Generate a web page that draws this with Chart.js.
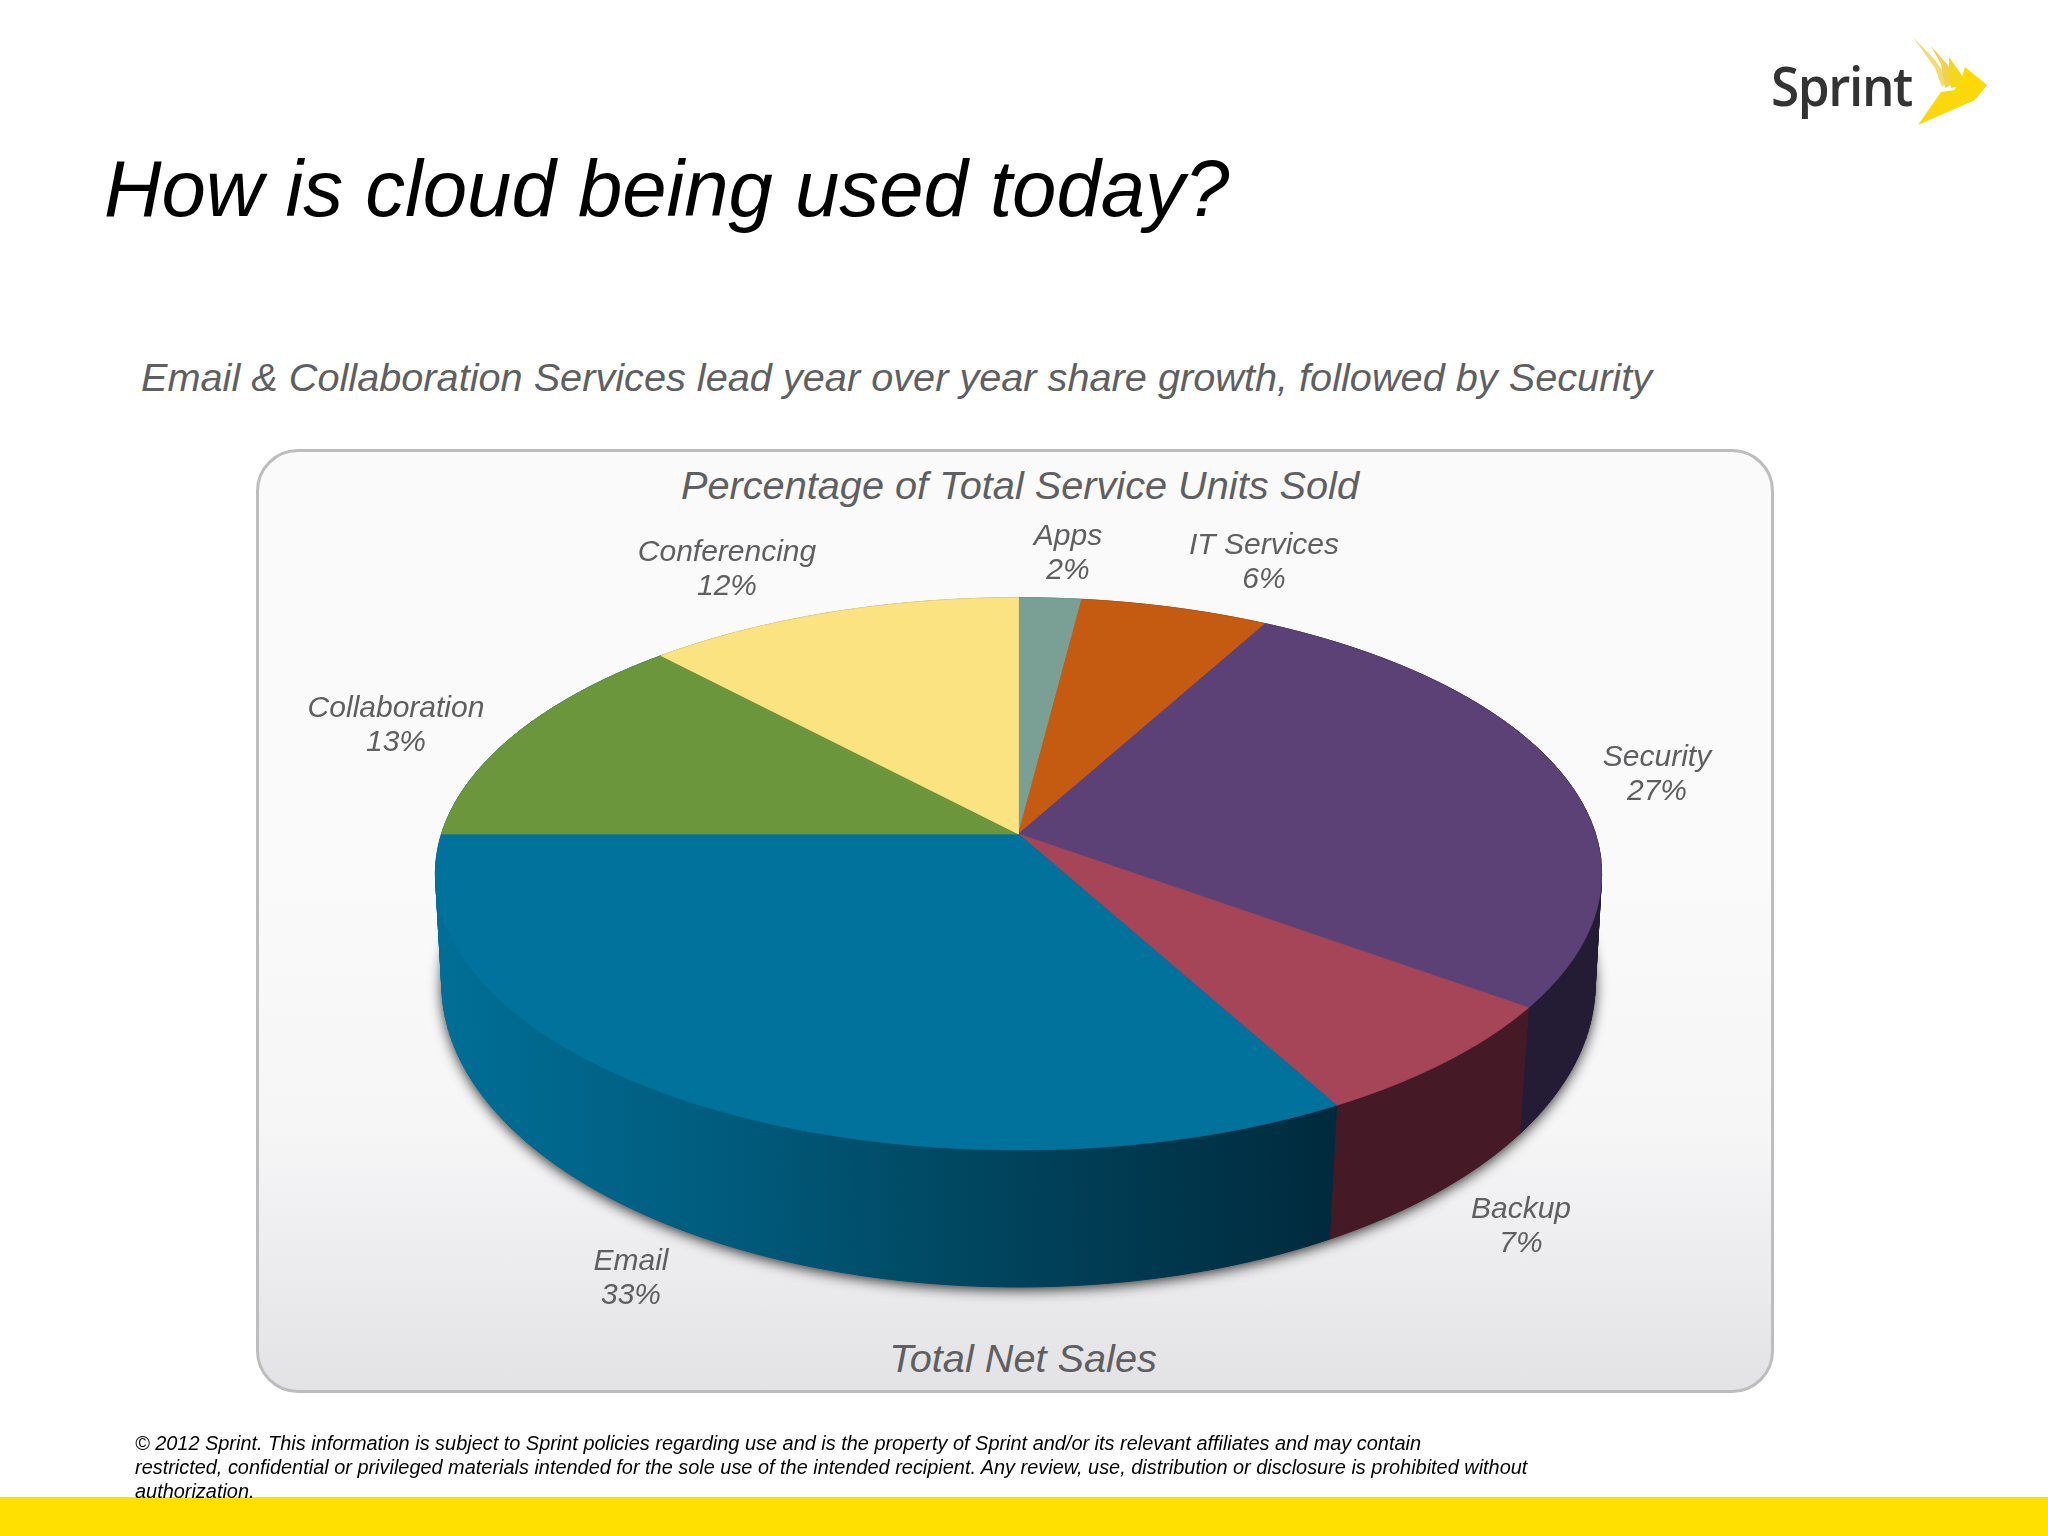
<!DOCTYPE html>
<html>
<head>
<meta charset="utf-8">
<title>How is cloud being used today?</title>
<script src="https://cdn.jsdelivr.net/npm/chart.js@4"></script>
<style>
  html, body { margin: 0; padding: 0; background: #fff; }
  #page { position: relative; width: 2048px; height: 1536px; overflow: hidden; font-family: "Liberation Sans", Arial, sans-serif; font-style: italic; }
  #page > div, #page > canvas, #page > svg { position: absolute; white-space: nowrap; }
  #bar { left: 0; top: 1497px; width: 2048px; height: 39px; background: #ffe000; }
  #panel { left: 256px; top: 449px; width: 1512px; height: 938px; border: 3px solid #bdbdbd; border-radius: 42px;
           background: linear-gradient(#fafafa 0%, #fafafa 45%, #f6f6f7 72%, #e3e2e5 100%); }
  #heading { left: 104px; top: 145px; font-size: 79.7px; line-height: 88px; color: #000; }
  #subhead { left: 141px; top: 352px; font-size: 39.7px; line-height: 50px; color: #5f5f61; }
  .caption { width: 2046px; text-align: center; font-size: 39.7px; line-height: 50px; color: #5f5f61; }
  #top-caption { left: -3px; top: 460px; }
  #bottom-caption { left: 0; top: 1333px; }
  #footnote { left: 135px; top: 1431px; font-size: 19.92px; line-height: 24px; color: #000; }
  #brand { left: 1771px; top: 46px; font-family: "Open Sans", sans-serif; font-style: normal; font-weight: 600; font-size: 54px; line-height: 78px; letter-spacing: -1.5px; color: #333; transform: scaleX(.95); transform-origin: left; filter: blur(.6px); }
  #wing { left: 1905px; top: 30px; filter: blur(.7px); }
  #pie { left: 0; top: 0; }
</style>
</head>
<body>
<div id="page">
  <div id="bar"></div>
  <div id="panel"></div>
  <div id="heading">How is cloud being used today?</div>
  <div id="subhead">Email &amp; Collaboration Services lead year over year share growth, followed by Security</div>
  <div class="caption" id="top-caption">Percentage of Total Service Units Sold</div>
  <div class="caption" id="bottom-caption">Total Net Sales</div>
  <div id="brand">Sprint</div>
  <svg id="wing" width="90" height="100" viewBox="0 0 90 100">
    <polygon points="8,7 30,30 44,50 37,57 30,38" fill="#f0dc70"/>
    <polygon points="26,16 42,34 52,52 40,58 36,34" fill="#efd24a"/>
    <polygon points="44,27 56,44 60,55 46,58 44,40" fill="#f6d61a"/>
    <polygon points="60,37 82,55 72,66 48,62 56,50" fill="#ffd900"/>
    <polygon points="82,55 70,70 13,95 36,62 50,60" fill="#fbd80c"/>
  </svg>
  <canvas id="pie" width="2048" height="1536"></canvas>
  <div id="footnote">© 2012 Sprint. This information is subject to Sprint policies regarding use and is the property of Sprint and/or its relevant affiliates and may contain<br>restricted, confidential or privileged materials intended for the sole use of the intended recipient. Any review, use, distribution or disclosure is prohibited without<br>authorization.</div>
</div>
<script>
// Slices run clockwise from 12 o'clock, same order as the picture.
const categories = ['Apps', 'IT Services', 'Security', 'Backup', 'Email', 'Collaboration', 'Conferencing'];
const shares = [2, 6, 27, 7, 33, 13, 12];

const faceColors = ['#7a9f94', '#c55a11', '#5b4176', '#a64558', '#00729c', '#6b963b', '#fbe382'];
// Collaboration's wall only peeks out at the far left, where it reads as Email's.
const wallColors = ['#4a6059', '#76360a', '#241b35', '#451a26', null, '#006f97', '#97884e'];

// Centre of each two-line slice label on the page.
const labelX = [1068, 1264, 1657, 1521, 631, 396, 727];
const labelY = [554, 563, 775, 1227, 1279, 726, 570];

// Perspective of the tilted disc, all as fractions of the chart's own outerRadius.
const faceTilt = 0.1442;
const faceDepth = 0.4686;
const baseTilt = 0.13;
const baseWidth = 0.991;
const baseDepth = 0.5163;
const baseDrop = 0.1916;

// Map an arc angle to the page, on the top face or on the bottom rim.
function project(arc, angle, isBase) {
  const u = Math.cos(angle), v = Math.sin(angle);
  const r = arc.outerRadius;
  if (isBase) {
    const w = 1 - baseTilt * v;
    return [arc.x + r * baseWidth * u / w, arc.y + r * (baseDrop + baseDepth * v / w)];
  }
  const w = 1 - faceTilt * v;
  return [arc.x + r * u / w, arc.y + r * faceDepth * v / w];
}

function traceRim(ctx, arc, from, to, isBase, moveFirst) {
  const steps = Math.max(2, Math.ceil(Math.abs(to - from) / 0.008));
  for (let i = 0; i <= steps; i++) {
    const p = project(arc, from + (to - from) * i / steps, isBase);
    if (i === 0 && moveFirst) ctx.moveTo(p[0], p[1]);
    else ctx.lineTo(p[0], p[1]);
  }
}

function emailWall(ctx) {
  const g = ctx.createLinearGradient(434, 0, 1335, 0);
  g.addColorStop(0, '#006f97');
  g.addColorStop(0.3, '#005d7f');
  g.addColorStop(0.6, '#00465f');
  g.addColorStop(1, '#002a3d');
  return g;
}

// Wall is filled strip by strip: near the sides the strip folds over itself,
// and one big polygon would cancel out there and leave a notch.
function drawWall(ctx, arc, fill) {
  ctx.fillStyle = fill;
  ctx.strokeStyle = fill;
  ctx.lineWidth = 1;
  const steps = Math.max(2, Math.ceil((arc.endAngle - arc.startAngle) / 0.02));
  const span = (arc.endAngle - arc.startAngle) / steps;
  for (let i = 0; i < steps; i++) {
    const a = arc.startAngle + span * i;
    const corners = [project(arc, a, false), project(arc, a + span, false), project(arc, a + span, true), project(arc, a, true)];
    ctx.beginPath();
    corners.forEach(p => ctx.lineTo(p[0], p[1]));
    ctx.closePath();
    ctx.fill();
    ctx.stroke();
  }
}

// Draws the whole pie from the chart's arc elements, in place of the flat default.
const tiltedPie = {
  id: 'tiltedPie',
  beforeDatasetsDraw(chart) {
    const ctx = chart.ctx;
    const arcs = chart.getDatasetMeta(0).data;
    const first = arcs[0];

    // soft shadow under the base
    ctx.save();
    ctx.shadowColor = 'rgba(0,0,0,0.8)';
    ctx.shadowBlur = 13;
    ctx.shadowOffsetX = 0;
    ctx.shadowOffsetY = 3;
    ctx.fillStyle = '#555';
    ctx.beginPath();
    traceRim(ctx, first, 0, Math.PI * 2, true, true);
    ctx.closePath();
    ctx.fill();
    ctx.restore();

    arcs.forEach((arc, i) => drawWall(ctx, arc, wallColors[i] || emailWall(ctx)));

    arcs.forEach((arc, i) => {
      ctx.beginPath();
      ctx.moveTo(arc.x, arc.y);
      traceRim(ctx, arc, arc.startAngle, arc.endAngle, false, false);
      ctx.closePath();
      ctx.fillStyle = faceColors[i];
      ctx.strokeStyle = faceColors[i];
      ctx.lineWidth = 0.8;
      ctx.fill();
      ctx.stroke();
    });
    return false; // skip the library's flat arcs
  },
  afterDraw(chart) {
    const ctx = chart.ctx;
    ctx.save();
    ctx.font = 'italic 30px "Liberation Sans", Arial, sans-serif';
    ctx.fillStyle = '#5f5f61';
    ctx.textAlign = 'center';
    ctx.textBaseline = 'middle';
    categories.forEach((name, i) => {
      ctx.fillText(name, labelX[i], labelY[i] - 17);
      ctx.fillText(shares[i] + '%', labelX[i], labelY[i] + 17);
    });
    ctx.restore();
  }
};

new Chart(document.getElementById('pie'), {
  type: 'pie',
  data: {
    labels: categories,
    datasets: [{ data: shares, backgroundColor: faceColors, borderWidth: 0 }]
  },
  options: {
    responsive: false,
    animation: false,
    devicePixelRatio: 1,
    // Puts the pie apex near (1018, 834) with a 577px radius.
    layout: { padding: { left: 441, right: 452, top: 257, bottom: 125 } },
    plugins: { legend: { display: false }, tooltip: { enabled: false }, title: { display: false } }
  },
  plugins: [tiltedPie]
});
</script>
</body>
</html>
